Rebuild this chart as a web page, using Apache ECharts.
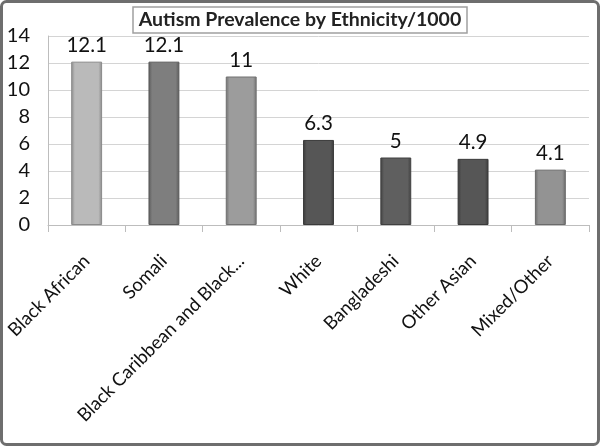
<!DOCTYPE html>
<html>
<head>
<meta charset="utf-8">
<script src="https://cdn.jsdelivr.net/npm/echarts@6/dist/echarts.min.js"></script>
<style>
html,body{margin:0;padding:0;background:#fff;}
#c{width:600px;height:446px;}
</style>
</head>
<body>
<div id="c"></div>
<script>
var categories = ['Black African', 'Somali', 'Black Caribbean and Black...', 'White', 'Bangladeshi', 'Other Asian', 'Mixed/Other'];
var values = [12.1, 12.1, 11, 6.3, 5, 4.9, 4.1];
var barColors = ['#bababa', '#7e7e7e', '#9c9c9c', '#565656', '#5f5f5f', '#565656', '#939393'];
var borderColors = ['#8a8a8a', '#5a5a5a', '#707070', '#3a3a3a', '#404040', '#3a3a3a', '#6a6a6a'];
var yTicks = {min: 0, max: 14, interval: 2};
var titleText = 'Autism Prevalence by Ethnicity/1000';

var FONT = 'Lato';
var chart = echarts.init(document.getElementById('c'), null, {renderer: 'canvas'});
chart.setOption({
  animation: false,
  backgroundColor: '#fff',
  title: {
    text: titleText,
    left: 'center',
    top: 7,
    padding: [3, 6, 3, 6],
    borderColor: '#a0a0a0',
    borderWidth: 1.5,
    backgroundColor: '#fff',
    textStyle: {fontFamily: FONT, fontWeight: 'bold', fontSize: 19.5, color: '#222'}
  },
  graphic: [{
    type: 'rect',
    shape: {x: 1.5, y: 1.5, width: 597, height: 443, r: 5},
    style: {fill: 'none', stroke: '#6e6e6e', lineWidth: 3},
    silent: true, z: 100
  }],
  grid: {left: 48, right: 11, top: 36, bottom: 221, containLabel: false},
  xAxis: {
    type: 'category',
    data: categories,
    axisLine: {lineStyle: {color: '#bdbdbd', width: 1}},
    axisTick: {show: true, length: 7, lineStyle: {color: '#bdbdbd'}},
    axisLabel: {rotate: 45, fontFamily: FONT, fontSize: 18.5, color: '#111', margin: 33, interval: 0}
  },
  yAxis: {
    type: 'value',
    min: yTicks.min, max: yTicks.max, interval: yTicks.interval,
    axisLine: {show: true, lineStyle: {color: '#bdbdbd'}},
    axisTick: {show: false},
    splitLine: {lineStyle: {color: '#d4d4d4', width: 1}},
    axisLabel: {fontFamily: FONT, fontSize: 20, color: '#111', margin: 18}
  },
  series: [{
    type: 'bar',
    barWidth: '40%',
    data: values.map(function (v, i) {
      return {
        value: v,
        itemStyle: {
          color: {
            type: 'linear', x: 0, y: 0, x2: 1, y2: 0,
            colorStops: [
              {offset: 0, color: borderColors[i]},
              {offset: 0.12, color: barColors[i]},
              {offset: 0.88, color: barColors[i]},
              {offset: 1, color: borderColors[i]}
            ]
          },
          borderColor: borderColors[i],
          borderWidth: 1
        }
      };
    }),
    label: {show: true, position: 'top', distance: 6, fontFamily: FONT, fontSize: 20.5, color: '#111'}
  }]
});
</script>
</body>
</html>
